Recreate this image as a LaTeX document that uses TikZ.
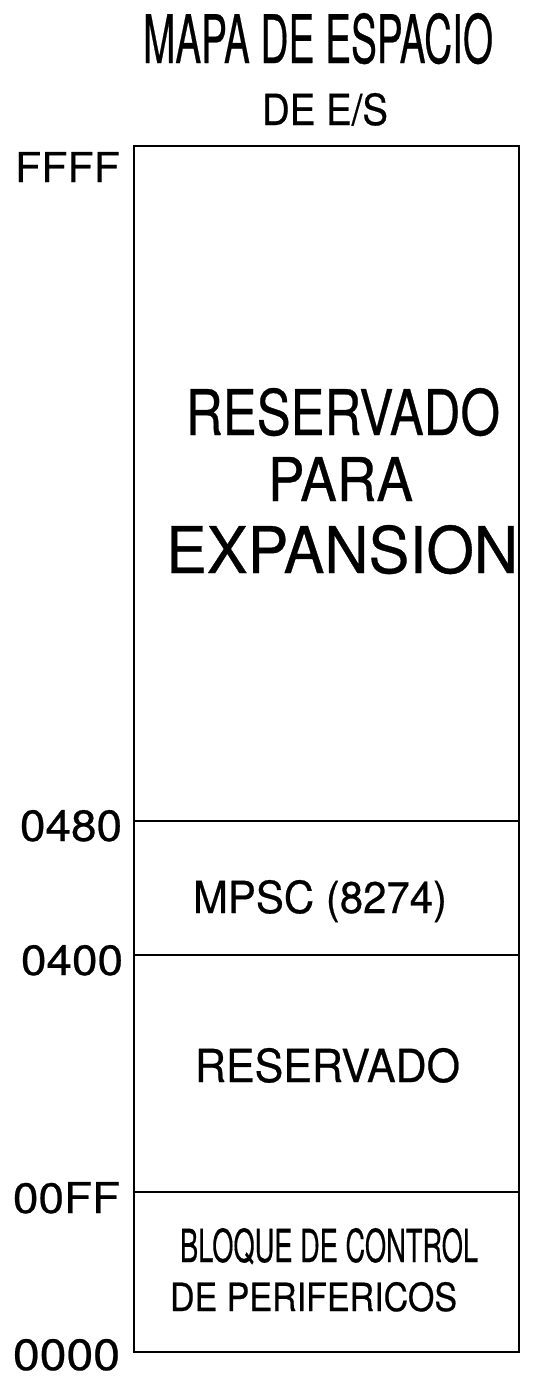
\documentclass[tikz,border=0pt]{standalone}
\usepackage{fontspec}
\setmainfont[FakeBold=0.5]{TeX Gyre Heros}
\begin{document}
\begin{tikzpicture}[x=1pt,y=-1pt,
  lbl/.style={anchor=base west, inner sep=0pt, outer sep=0pt},
  frame/.style={line width=1.8pt, line cap=rect, line join=miter}]
\useasboundingbox (0,0) rectangle (555,1377);
% box corners and divider ends
\coordinate (tl) at (134,146);
\coordinate (br) at (519,1352);
\coordinate (d1l) at (134,821);  \coordinate (d1r) at (519,821);
\coordinate (d2l) at (134,955);  \coordinate (d2r) at (519,955);
\coordinate (d3l) at (134,1192); \coordinate (d3r) at (519,1192);
\draw[frame] (tl) rectangle (br);
\draw[frame] (d1l) -- (d1r);
\draw[frame] (d2l) -- (d2r);
\draw[frame] (d3l) -- (d3r);
% title
\node[lbl] (title1) at (143,63) {\resizebox{350pt}{50pt}{MAPA DE ESPACIO}};
\node[lbl] (title2) at (262,125) {\resizebox{126pt}{32pt}{DE E/S}};
% address labels
\node[lbl] (aFFFF) at (15,182) {\resizebox{105pt}{30pt}{FFFF}};
\node[lbl] (a0480) at (20,841) {\resizebox{102pt}{31pt}{0480}};
\node[lbl] (a0400) at (21,975) {\resizebox{102pt}{30pt}{0400}};
\node[lbl] (a00FF) at (13,1213) {\resizebox{107pt}{31pt}{00FF}};
\node[lbl] (a0000) at (13,1370) {\resizebox{107pt}{31pt}{0000}};
% region texts
\node[lbl] (exp1) at (186,435) {\resizebox{314pt}{47pt}{RESERVADO}};
\node[lbl] (exp2) at (268,501) {\resizebox{145pt}{44pt}{PARA}};
\node[lbl] (exp3) at (166,573) {\resizebox{352pt}{48pt}{EXPANSION}};
\node[lbl] (mpsc) at (193,913) {\resizebox{254pt}{33pt}{MPSC (8274)}};
\node[lbl] (res) at (195,1082) {\resizebox{265pt}{34pt}{RESERVADO}};
\node[lbl] (bcp1) at (180,1262) {\resizebox{298pt}{34pt}{BLOQUE DE CONTROL}};
\node[lbl] (bcp2) at (170,1311) {\resizebox{287pt}{29pt}{DE PERIFERICOS}};
\end{tikzpicture}
\end{document}
